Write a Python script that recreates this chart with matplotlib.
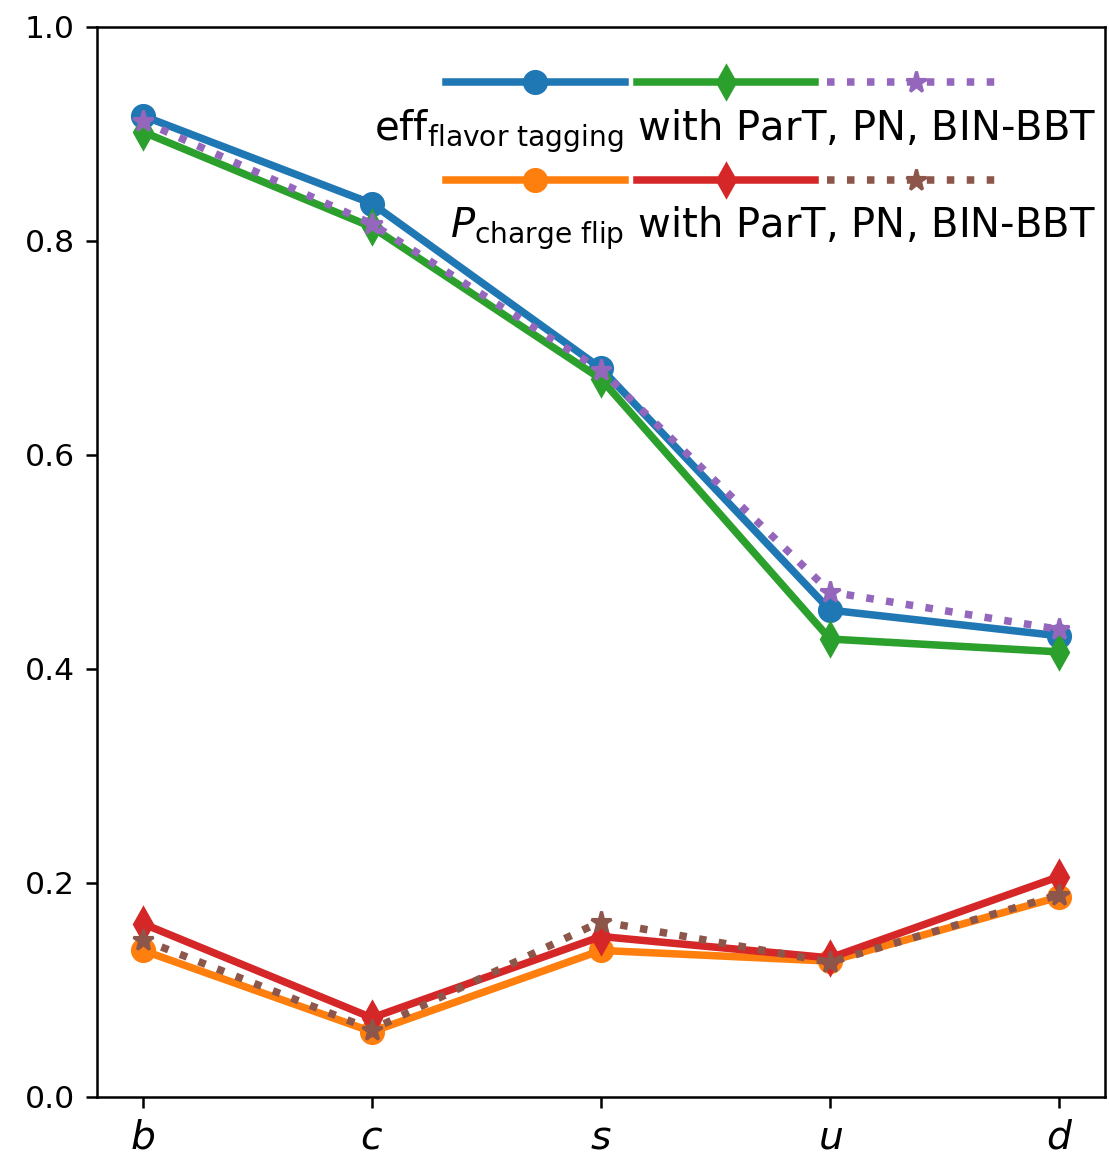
import matplotlib
matplotlib.use("Agg")
import matplotlib.pyplot as plt
from matplotlib.legend_handler import HandlerTuple
from matplotlib.offsetbox import VPacker, HPacker, DrawingArea

# Quark flavours on the x axis
flavors = ["b", "c", "s", "u", "d"]

# Flavour-tagging efficiency per tagger
eff_part = [0.917, 0.835, 0.681, 0.455, 0.431]
eff_pn = [0.902, 0.813, 0.671, 0.428, 0.416]
eff_bbt = [0.912, 0.816, 0.679, 0.472, 0.437]

# Charge-flip probability per tagger
flip_part = [0.137, 0.061, 0.137, 0.127, 0.187]
flip_pn = [0.162, 0.074, 0.150, 0.130, 0.206]
flip_bbt = [0.147, 0.063, 0.164, 0.126, 0.189]

label_eff = r"$\mathrm{eff}_{\mathrm{flavor\ tagging}}$ with ParT, PN, BIN-BBT"
label_flip = r"$P_{\mathrm{charge\ flip}}$ with ParT, PN, BIN-BBT"

DPI = 226
fig = plt.figure(figsize=(1109 / DPI, 1157 / DPI), dpi=DPI)
ax = fig.add_axes([97 / 1109, 1 - 1097 / 1157, (1105 - 97) / 1109, (1097 - 27) / 1157])

x = list(range(len(flavors)))
lw = 2.4
ms = 7

l0, = ax.plot(x, eff_part, "o-", color="C0", lw=lw, ms=ms)
l1, = ax.plot(x, flip_part, "o-", color="C1", lw=lw, ms=ms)
l2, = ax.plot(x, eff_pn, "d-", color="C2", lw=lw, ms=ms)
l3, = ax.plot(x, flip_pn, "d-", color="C3", lw=lw, ms=ms)
l4, = ax.plot(x, eff_bbt, "*:", color="C4", lw=lw, ms=ms)
l5, = ax.plot(x, flip_bbt, "*:", color="C5", lw=lw, ms=ms)

ax.set_ylim(0, 1.0)
ax.set_xlim(-0.2, 4.2)
ax.set_xticks(x)
ax.set_xticklabels([f"${f}$" for f in flavors], fontsize=12.5)
ax.set_yticks([0.0, 0.2, 0.4, 0.6, 0.8, 1.0])
ax.set_yticklabels([f"{v:.1f}" for v in [0.0, 0.2, 0.4, 0.6, 0.8, 1.0]], fontsize=10)

leg_fs = 12.8
leg = ax.legend(
    handles=[(l0, l2, l4), (l1, l3, l5)],
    labels=[label_eff, label_flip],
    handler_map={tuple: HandlerTuple(ndivide=None, pad=0.3)},
    handlelength=13.9,
    loc="upper right",
    bbox_to_anchor=(1 + 15 / 1008, 1 - 17 / 1070),
    frameon=False,
    fontsize=leg_fs,
    labelspacing=0.28,
    borderaxespad=0.2,
)

# Stack each legend entry vertically: handles on top, label underneath,
# labels flush right and the handle row inset from the right edge
for column in leg._legend_handle_box.get_children():
    stacked = []
    for row in column.get_children():
        handle_box, text_box = row.get_children()
        spacer = DrawingArea(29, 0)
        handle_row = HPacker(pad=0, sep=0, children=[handle_box, spacer], align="center")
        stacked.append(VPacker(pad=0, sep=3.5, children=[handle_row, text_box], align="right"))
    column._children = stacked
    column.align = "right"
    for s in stacked:
        s.set_figure(fig)

fig.savefig("out.png", dpi=DPI)
